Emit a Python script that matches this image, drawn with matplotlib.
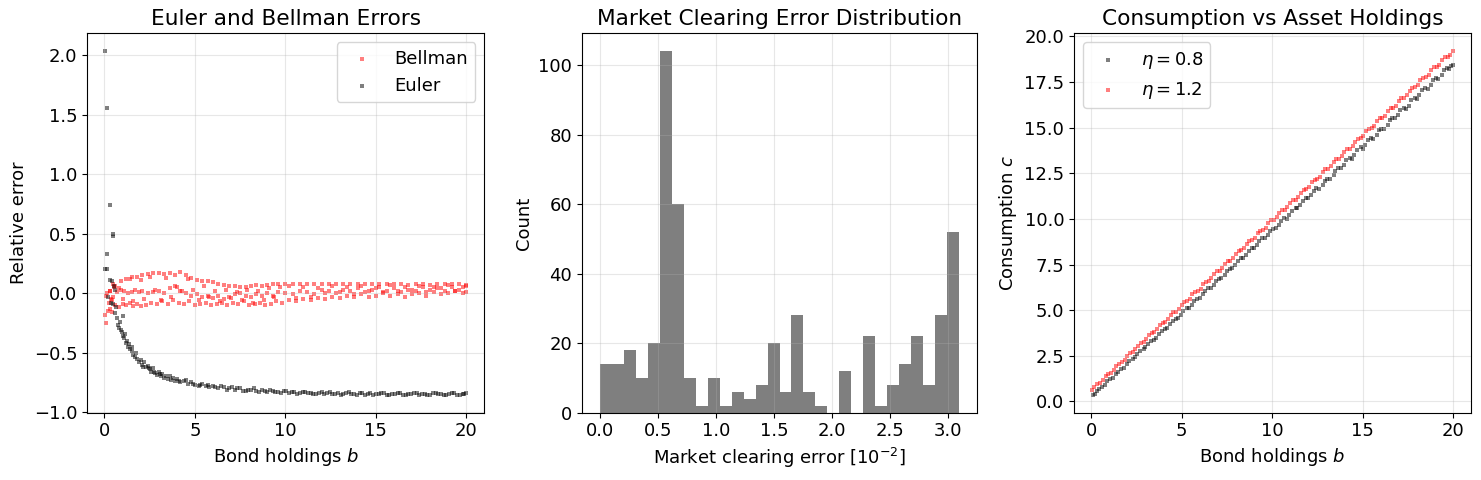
import numpy as np
import matplotlib
matplotlib.use("Agg")
import matplotlib.pyplot as plt

plt.rcParams['font.size'] = 13

# --- left panel: Euler / Bellman errors vs bond holdings
euler_b = [0.05, 0.12, 0.32, 0.45, 0.47, 0.15, 0.05, 0.12, 0.32, 0.40, 0.55, 0.60, 0.20, 0.35, 0.50,
           0.6, 0.65, 0.7, 0.75, 0.8, 0.85, 0.9, 0.95, 1.0, 1.05, 1.1, 1.15, 1.2, 1.25, 1.3, 1.35, 1.4,
           1.5, 1.55, 1.6, 1.7, 1.75, 1.8, 1.9, 2.0, 2.1, 2.2, 2.3, 2.4, 2.5, 2.6, 2.7, 2.8, 2.9, 3.0,
           3.1, 3.2, 3.3, 3.5, 3.6, 3.7, 3.9, 4.0, 4.2, 4.4, 4.6, 4.8, 5.0, 5.2, 5.4, 5.6, 5.8, 6.0,
           6.3, 6.6, 6.9, 7.2, 7.5, 7.8, 8.1, 8.4, 8.7, 9.0, 9.3, 9.6, 9.9, 10.2, 10.5, 10.8, 11.1,
           11.4, 11.7, 12.0, 12.3, 12.6, 12.9, 13.2, 13.5, 13.8, 14.1, 14.4, 14.7, 15.0, 15.3, 15.6,
           15.9, 16.2, 16.5, 16.8, 17.1, 17.4, 17.7, 18.0, 18.3, 18.6, 18.9, 19.2, 19.5, 19.8, 20.0]
euler_err = [2.04, 1.56, 0.74, 0.50, 0.48, 0.33, 0.20, 0.20, 0.11, 0.10, 0.06, 0.03, -0.03, -0.08, -0.09,
             -0.17, -0.12, -0.21, -0.27, -0.29, -0.24, -0.31, -0.33, -0.36, -0.19, -0.38, -0.34, -0.42,
             -0.40, -0.45, -0.43, -0.47, -0.49, -0.45, -0.52, -0.54, -0.50, -0.55, -0.58, -0.56, -0.60,
             -0.58, -0.62, -0.61, -0.64, -0.66, -0.63, -0.67, -0.69, -0.66, -0.70, -0.68, -0.71, -0.72,
             -0.70, -0.73, -0.74, -0.72, -0.75, -0.74, -0.76, -0.75, -0.77, -0.78, -0.76, -0.78, -0.79,
             -0.78, -0.80, -0.79, -0.80, -0.81, -0.80, -0.82, -0.81, -0.82, -0.81, -0.83, -0.82, -0.83,
             -0.82, -0.84, -0.83, -0.84, -0.83, -0.84, -0.85, -0.83, -0.84, -0.85, -0.84, -0.85, -0.83,
             -0.85, -0.84, -0.86, -0.84, -0.85, -0.84, -0.86, -0.85, -0.84, -0.86, -0.85, -0.84, -0.86,
             -0.85, -0.86, -0.84, -0.85, -0.86, -0.84, -0.86, -0.85, -0.84]
euler_b2 = [2.15, 2.45, 2.75, 3.05, 3.4, 3.8, 4.1, 4.5, 4.9, 5.3, 5.7, 6.1, 6.45, 6.75, 7.05, 7.35,
            7.65, 7.95, 8.25, 8.55, 8.85, 9.15, 9.45, 9.75, 10.05, 10.35, 10.65, 10.95, 11.25, 11.55,
            11.85, 12.15, 12.45, 12.75, 13.05, 13.35, 13.65, 13.95, 14.25, 14.55, 14.85, 15.15, 15.45,
            15.75, 16.05, 16.35, 16.65, 16.95, 17.25, 17.55, 17.85, 18.15, 18.45, 18.75, 19.05, 19.35,
            19.65, 19.9]
euler_err2 = [-0.62, -0.63, -0.66, -0.68, -0.70, -0.71, -0.74, -0.73, -0.76, -0.77, -0.77, -0.79, -0.78,
              -0.81, -0.79, -0.80, -0.82, -0.81, -0.80, -0.83, -0.82, -0.81, -0.83, -0.84, -0.82, -0.83,
              -0.85, -0.83, -0.84, -0.85, -0.84, -0.85, -0.83, -0.85, -0.86, -0.84, -0.85, -0.86, -0.84,
              -0.85, -0.86, -0.85, -0.84, -0.86, -0.85, -0.84, -0.86, -0.85, -0.84, -0.85, -0.86, -0.84,
              -0.85, -0.86, -0.85, -0.84, -0.86, -0.85]

bellman_b = [0.3, 0.6, 0.9, 1.2, 1.5, 1.8, 2.1, 2.4, 2.7, 3.0, 3.3, 3.6, 3.9, 4.2, 4.5, 4.8, 5.1, 5.4,
             5.7, 6.0, 6.3, 6.6, 6.9, 7.2, 7.5, 7.8, 8.1, 8.4, 8.7, 9.0, 9.3, 9.6, 10.0, 10.4, 10.8,
             11.2, 11.6, 12.0, 12.4, 12.8, 13.2, 13.6, 14.0, 14.4, 14.8, 15.2, 15.6, 16.0, 16.4, 16.8,
             17.2, 17.6, 18.0, 18.4, 18.8, 19.2, 19.6, 20.0,
             0.1, 0.3, 0.5, 0.7, 0.9, 1.1, 1.3, 1.5, 1.7, 1.9, 2.1, 2.4, 2.7, 3.0, 3.3, 3.6, 3.9, 4.2,
             4.5, 4.8, 5.1, 5.4, 5.7, 6.0, 6.3, 6.6, 6.9, 7.2, 7.5, 7.8, 8.1, 8.4, 8.7, 9.0, 9.3, 9.6,
             10.0, 10.4, 10.8, 11.2, 11.6, 12.0, 12.4, 12.8, 13.2, 13.6, 14.0, 14.4, 14.8, 15.2, 15.6,
             16.0, 16.4, 16.8, 17.2, 17.6, 18.0, 18.4, 18.8, 19.2, 19.6, 20.0,
             0.05, 0.1, 0.2, 0.3, 0.4, 0.6, 0.8, 1.0, 1.2, 1.4, 1.6, 1.8, 2.0, 2.3, 2.6, 2.9, 3.2, 3.5,
             3.8, 4.1, 4.4, 4.7, 5.0, 5.3, 5.6, 5.9, 6.2, 6.5, 6.8, 7.1, 7.4, 7.7, 8.0, 8.3, 8.6, 8.9,
             9.2, 9.5, 9.8, 10.2, 10.6, 11.0, 11.4, 11.8, 12.2, 12.6, 13.0, 13.4, 13.8, 14.2, 14.6,
             15.0, 15.4, 15.8, 16.2, 16.6, 17.0, 17.4, 17.8, 18.2, 18.6, 19.0, 19.4, 19.8, 20.0,
             0.15, 0.35, 0.55, 0.45, 0.25]
bellman_err = [0.02, 0.06, 0.10, 0.12, 0.14, 0.14, 0.15, 0.16, 0.17, 0.17, 0.16, 0.17, 0.15, 0.18, 0.15,
               0.13, 0.11, 0.10, 0.10, 0.09, 0.08, 0.07, 0.06, 0.06, 0.05, 0.05, 0.06, 0.07, 0.06,
               0.07, 0.08, 0.08, 0.08, 0.08, 0.08, 0.08, 0.08, 0.08, 0.08, 0.08, 0.08, 0.08, 0.08,
               0.08, 0.08, 0.08, 0.08, 0.08, 0.08, 0.07, 0.08, 0.08, 0.07, 0.08, 0.08, 0.08, 0.08, 0.07,
               -0.02, 0.02, -0.03, 0.01, 0.03, 0.02, 0.00, 0.01, 0.03, 0.01, 0.02, 0.00, 0.01, 0.02,
               0.00, 0.04, 0.06, 0.02, 0.00, -0.02, -0.01, -0.03, -0.02, -0.04, -0.02, -0.05, -0.03,
               -0.01, 0.00, -0.02, -0.03, -0.01, -0.02, 0.00, -0.02, 0.01, 0.00, -0.01, 0.02, 0.01,
               -0.01, 0.03, 0.02, 0.00, 0.03, 0.02, 0.04, 0.01, 0.03, 0.05, 0.02, 0.04, 0.01, 0.03,
               0.02, 0.05, 0.03, 0.04, 0.02, 0.05, 0.03, 0.06,
               -0.18, -0.25, -0.15, -0.13, -0.16, -0.10, -0.12, -0.09, -0.10, -0.08, -0.11, -0.09,
               -0.11, -0.10, -0.08, -0.09, -0.07, -0.09, -0.06, -0.08, -0.09, -0.07, -0.10, -0.09,
               -0.08, -0.10, -0.09, -0.08, -0.10, -0.08, -0.09, -0.07, -0.10, -0.09, -0.08, -0.10,
               -0.09, -0.07, -0.08, -0.06, -0.07, -0.05, -0.06, -0.04, -0.05, -0.03, -0.04, -0.02,
               -0.03, -0.01, -0.03, -0.02, 0.00, -0.02, -0.01, -0.03, -0.01, 0.00, -0.02, 0.01, -0.01,
               0.00, 0.02, 0.00, 0.01,
               0.00, -0.05, 0.05, 0.08, -0.08]
bellman_b2 = [0.4, 0.8, 1.0, 1.4, 1.6, 2.0, 2.2, 2.5, 2.8, 3.1, 3.4, 3.7, 4.0, 4.3, 4.6, 4.9, 5.2, 5.5,
              5.8, 6.1, 6.4, 6.7, 7.0, 7.3, 7.6, 7.9, 8.2, 8.5, 8.8, 9.1, 9.4, 9.7, 10.2, 10.6, 11.0,
              11.4, 11.8, 12.2, 12.6, 13.0, 13.4, 13.8, 14.2, 14.6, 15.0, 15.4, 15.8, 16.2, 16.6, 17.0,
              17.4, 17.8, 18.2, 18.6, 19.0, 19.4, 19.8]
bellman_err2 = [-0.06, 0.04, -0.05, 0.12, -0.07, 0.11, -0.05, 0.14, 0.03, -0.06, 0.13, -0.03, 0.05, 0.02,
                0.12, 0.03, -0.06, 0.06, -0.03, 0.02, -0.07, 0.03, -0.04, 0.01, -0.06, 0.03, -0.08, 0.02,
                -0.06, 0.04, -0.03, 0.05, 0.06, -0.04, 0.05, -0.03, 0.04, 0.00, 0.06, 0.01, 0.05, -0.01,
                0.06, 0.02, 0.04, 0.01, 0.07, 0.02, 0.05, 0.03, 0.06, 0.01, 0.05, 0.04, 0.07, 0.02, 0.05]

# --- middle panel: histogram of market clearing errors (units of 1e-2)
mc_lo, mc_hi, n_bins = 0.0, 3.095, 30
mc_counts = [14, 14, 18, 10, 20, 104, 60, 10, 2, 10, 2, 6, 4, 8, 20, 6, 28, 6, 2, 0,
             12, 0, 22, 2, 8, 14, 22, 8, 28, 52]

# --- right panel: consumption vs bond holdings
c08_b = [0.1, 0.3, 0.6, 0.9, 1.2, 1.5, 1.8, 2.1, 2.4, 2.7, 3.0, 3.3, 3.6, 3.9, 4.2, 4.5, 4.8, 5.1,
         5.4, 5.7, 6.0, 6.3, 6.6, 6.9, 7.2, 7.5, 7.8, 8.1, 8.4, 8.7, 9.0, 9.3, 9.6, 9.9, 10.2, 10.5,
         10.8, 11.1, 11.4, 11.7, 12.0, 12.3, 12.6, 12.9, 13.2, 13.5, 13.8, 14.1, 14.4, 14.7, 15.0,
         15.3, 15.6, 15.9, 16.2, 16.5, 16.8, 17.1, 17.4, 17.7, 18.0, 18.3, 18.6, 18.9, 19.2, 19.5,
         19.8, 20.0,
         0.2, 0.45, 0.75, 1.05, 1.4, 1.65, 2.0, 2.3, 2.55, 2.9, 3.15, 3.45, 3.75, 4.1, 4.35, 4.7,
         4.95, 5.3, 5.6, 5.85, 6.2, 6.45, 6.8, 7.05, 7.4, 7.65, 7.95, 8.3, 8.55, 8.9, 9.15, 9.45,
         9.8, 10.05, 10.4, 10.65, 10.95, 11.3, 11.55, 11.9, 12.15, 12.45, 12.8, 13.05, 13.4, 13.65,
         13.95, 14.3, 14.55, 14.9, 15.15, 15.45, 15.8, 16.05, 16.4, 16.65, 16.95, 17.3, 17.55,
         17.9, 18.15, 18.45, 18.8, 19.05, 19.4, 19.65, 19.9]
c08_c = [0.33, 0.55, 0.78, 1.10, 1.31, 1.64, 1.86, 2.20, 2.42, 2.75, 2.96, 3.30, 3.50, 3.85, 4.04,
         4.40, 4.58, 4.95, 5.12, 5.50, 5.68, 6.06, 6.22, 6.60, 6.76, 7.15, 7.30, 7.70, 7.86, 8.25,
         8.40, 8.80, 8.95, 9.33, 9.50, 9.90, 10.02, 10.45, 10.58, 11.00, 11.12, 11.55, 11.66, 12.10,
         12.20, 12.65, 12.76, 13.20, 13.30, 13.75, 13.85, 14.30, 14.40, 14.85, 14.95, 15.40, 15.50,
         15.95, 16.03, 16.50, 16.58, 17.05, 17.12, 17.60, 17.66, 18.15, 18.22, 18.45,
         0.40, 0.68, 0.90, 1.24, 1.50, 1.80, 2.05, 2.30, 2.62, 2.86, 3.16, 3.36, 3.72, 3.95, 4.26,
         4.50, 4.74, 5.14, 5.31, 5.63, 5.86, 6.19, 6.40, 6.73, 6.95, 7.28, 7.45, 7.88, 8.00, 8.42,
         8.55, 8.93, 9.14, 9.47, 9.69, 10.03, 10.19, 10.62, 10.74, 11.16, 11.29, 11.67, 11.88,
         12.21, 12.43, 12.77, 12.93, 13.36, 13.48, 13.91, 14.02, 14.41, 14.62, 14.95, 15.16, 15.50,
         15.67, 16.10, 16.21, 16.64, 16.76, 17.15, 17.35, 17.69, 17.90, 18.24, 18.36]
c12_b = [0.05, 0.35, 0.65, 0.95, 1.25, 1.55, 1.85, 2.15, 2.45, 2.75, 3.05, 3.35, 3.65, 3.95, 4.25,
         4.55, 4.85, 5.15, 5.45, 5.75, 6.05, 6.35, 6.65, 6.95, 7.25, 7.55, 7.85, 8.15, 8.45, 8.75,
         9.05, 9.35, 9.65, 9.95, 10.25, 10.55, 10.85, 11.15, 11.45, 11.75, 12.05, 12.35, 12.65,
         12.95, 13.25, 13.55, 13.85, 14.15, 14.45, 14.75, 15.05, 15.35, 15.65, 15.95, 16.25, 16.55,
         16.85, 17.15, 17.45, 17.75, 18.05, 18.35, 18.65, 18.95, 19.25, 19.55, 19.85, 20.0,
         0.15, 0.5, 0.8, 1.1, 1.4, 1.7, 2.0, 2.3, 2.6, 2.9, 3.2, 3.5, 3.8, 4.1, 4.4, 4.7, 5.0, 5.3,
         5.6, 5.9, 6.2, 6.5, 6.8, 7.1, 7.4, 7.7, 8.0, 8.3, 8.6, 8.9, 9.2, 9.5, 9.8, 10.1, 10.4,
         10.7, 11.0, 11.3, 11.6, 11.9, 12.2, 12.5, 12.8, 13.1, 13.4, 13.7, 14.0, 14.3, 14.6, 14.9,
         15.2, 15.5, 15.8, 16.1, 16.4, 16.7, 17.0, 17.3, 17.6, 17.9, 18.2, 18.5, 18.8, 19.1, 19.4,
         19.7]
c12_c = [0.62, 0.97, 1.18, 1.52, 1.73, 2.08, 2.28, 2.65, 2.85, 3.20, 3.40, 3.77, 3.96, 4.32, 4.50,
         4.88, 5.07, 5.45, 5.62, 6.01, 6.18, 6.57, 6.74, 7.12, 7.30, 7.68, 7.85, 8.24, 8.41, 8.80,
         8.97, 9.36, 9.52, 9.92, 10.08, 10.47, 10.64, 11.03, 11.20, 11.60, 11.76, 12.15, 12.31,
         12.71, 12.87, 13.27, 13.43, 13.83, 13.98, 14.39, 14.55, 14.95, 15.10, 15.50, 15.66, 16.06,
         16.21, 16.62, 16.77, 17.18, 17.33, 17.74, 17.89, 18.30, 18.45, 18.86, 19.00, 19.22,
         0.78, 1.02, 1.38, 1.58, 1.95, 2.14, 2.50, 2.69, 3.06, 3.25, 3.62, 3.81, 4.18, 4.37, 4.74,
         4.92, 5.30, 5.48, 5.86, 6.04, 6.42, 6.60, 6.98, 7.16, 7.53, 7.71, 8.09, 8.27, 8.65, 8.83,
         9.21, 9.39, 9.77, 9.95, 10.32, 10.50, 10.88, 11.06, 11.44, 11.62, 12.00, 12.18, 12.56,
         12.74, 13.11, 13.29, 13.67, 13.85, 14.23, 14.41, 14.79, 14.97, 15.35, 15.53, 15.90, 16.08,
         16.46, 16.64, 17.02, 17.20, 17.58, 17.76, 18.14, 18.32, 18.69, 18.87]

fig = plt.figure(figsize=(14.81, 4.8), dpi=100)
ax1 = fig.add_axes([87.3 / 1481, 1 - 412.7 / 480, (484.3 - 87.3) / 1481, (412.7 - 33.3) / 480])
ax2 = fig.add_axes([581.7 / 1481, 1 - 412.7 / 480, (977.3 - 581.7) / 1481, (412.7 - 33.3) / 480])
ax3 = fig.add_axes([1074.0 / 1481, 1 - 412.7 / 480, (1471.0 - 1074.0) / 1481, (412.7 - 33.3) / 480])

ms = 5
kw = dict(s=ms, marker='s', alpha=0.5, linewidths=0)
ax1.scatter(bellman_b + bellman_b2, bellman_err + bellman_err2, color='red', label='Bellman', **kw)
ax1.scatter(euler_b + euler_b2, euler_err + euler_err2, color='black', label='Euler', **kw)
ax1.set_xlabel('Bond holdings $b$')
ax1.set_ylabel('Relative error')
ax1.set_title('Euler and Bellman Errors')
ax1.legend(loc='upper right')
ax1.grid(True, alpha=0.3)

edges = np.linspace(mc_lo, mc_hi, n_bins + 1)
ax2.hist(edges[:-1], bins=edges, weights=mc_counts, color='black', alpha=0.5)
ax2.set_xlabel('Market clearing error [$10^{-2}$]')
ax2.set_ylabel('Count')
ax2.set_title('Market Clearing Error Distribution')
ax2.grid(True, alpha=0.3)

ax3.scatter(c08_b, c08_c, color='black', label=r'$\eta = 0.8$', **kw)
ax3.scatter(c12_b, c12_c, color='red', label=r'$\eta = 1.2$', **kw)
ax3.set_xlabel('Bond holdings $b$')
ax3.set_ylabel('Consumption $c$')
ax3.set_title('Consumption vs Asset Holdings')
ax3.legend(loc='upper left')
ax3.grid(True, alpha=0.3)

fig.savefig('out.png', dpi=100)
